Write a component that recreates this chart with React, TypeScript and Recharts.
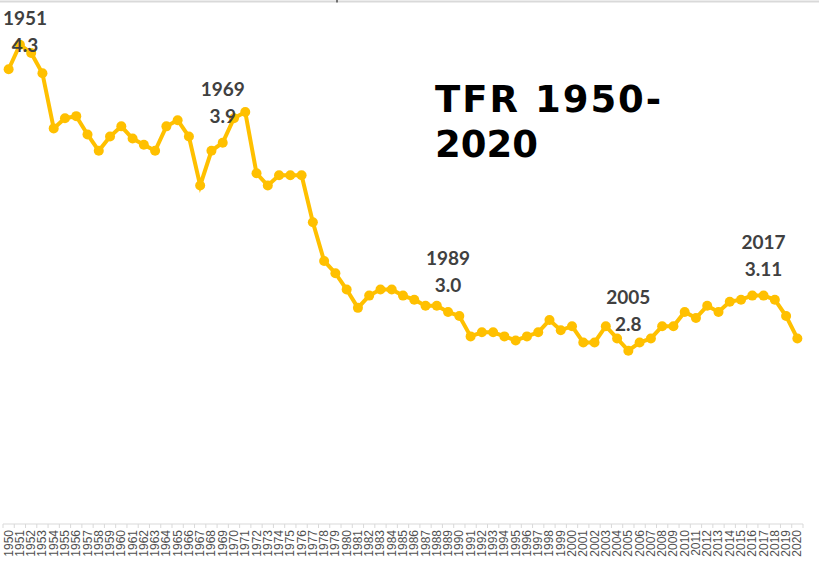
import React from "react";
import { LineChart, Line, XAxis, YAxis, LabelList, Customized } from "recharts";

const years: string[] = [
  "1950","1951","1952","1953","1954","1955","1956","1957","1958","1959",
  "1960","1961","1962","1963","1964","1965","1966","1967","1968","1969",
  "1970","1971","1972","1973","1974","1975","1976","1977","1978","1979",
  "1980","1981","1982","1983","1984","1985","1986","1987","1988","1989",
  "1990","1991","1992","1993","1994","1995","1996","1997","1998","1999",
  "2000","2001","2002","2003","2004","2005","2006","2007","2008","2009",
  "2010","2011","2012","2013","2014","2015","2016","2017","2018","2019",
  "2020",
];

const tfr: number[] = [
  4.18, 4.30, 4.26, 4.16, 3.89, 3.94, 3.95, 3.86, 3.78, 3.85,
  3.90, 3.84, 3.81, 3.78, 3.90, 3.93, 3.85, 3.61, 3.78, 3.82,
  3.94, 3.97, 3.67, 3.61, 3.66, 3.66, 3.66, 3.43, 3.24, 3.18,
  3.10, 3.01, 3.07, 3.10, 3.10, 3.07, 3.05, 3.02, 3.02, 2.99,
  2.97, 2.87, 2.89, 2.89, 2.87, 2.85, 2.87, 2.89, 2.95, 2.90,
  2.92, 2.84, 2.84, 2.92, 2.86, 2.80, 2.84, 2.86, 2.92, 2.92,
  2.99, 2.96, 3.02, 2.99, 3.04, 3.05, 3.07, 3.07, 3.05, 2.97,
  2.86,
];

const annotationYears: string[] = ["1951", "1969", "1989", "2005", "2017"];
const annotationTexts: string[] = ["4.3", "3.9", "3.0", "2.8", "3.11"];

const titleLines: string[] = ["TFR 1950-", "2020"];

const data = years.map((y, i) => ({ year: y, tfr: tfr[i] }));

const LINE_COLOR = "#FFC000";
const LABEL_FONT = "Lato, 'Open Sans', sans-serif";
const PLOT_W = 800;
const HALF_BAND = PLOT_W / years.length / 2;

const AxisTick = (props: any) => {
  const { x, y, payload, index } = props;
  return (
    <g>
      <line x1={x - HALF_BAND} y1={y - 6} x2={x - HALF_BAND} y2={y - 2} stroke="#d9d9d9" strokeWidth={1} />
      {index === years.length - 1 ? (
        <line x1={x + HALF_BAND} y1={y - 6} x2={x + HALF_BAND} y2={y - 2} stroke="#d9d9d9" strokeWidth={1} />
      ) : null}
      <text
        x={0}
        y={0}
        transform={`translate(${x + 4},${y}) rotate(-90)`}
        textAnchor="end"
        fontFamily="'Liberation Sans', Arial, sans-serif"
        fontSize={12}
        fill="#505050"
      >
        {payload.value}
      </text>
    </g>
  );
};

const AnnotationLabel = (props: any) => {
  const { x, y, index } = props;
  const yr = years[index];
  const k = annotationYears.indexOf(yr);
  if (k < 0) return null;
  const cx = Math.max(x, 25);
  const valueBase = Math.max(y - 20, 52);
  const yearBase = valueBase - 27;
  return (
    <g>
      <text x={cx} y={yearBase} textAnchor="middle" fontFamily={LABEL_FONT} fontWeight="bold" fontSize={19} fill="#404040">
        {yr}
      </text>
      <text x={cx} y={valueBase} textAnchor="middle" fontFamily={LABEL_FONT} fontWeight="bold" fontSize={19} fill="#404040">
        {annotationTexts[k]}
      </text>
    </g>
  );
};

const Decorations = () => (
  <g>
    <line x1={0} y1={1.5} x2={819} y2={1.5} stroke="#d9d9d9" strokeWidth={2} />
    <line x1={337} y1={0} x2={337} y2={2.5} stroke="#000" strokeWidth={1} />
    <text
      x={435}
      y={112}
      fontFamily="'DejaVu Sans', sans-serif"
      fontWeight="bold"
      fontSize={37}
      letterSpacing={2}
      fill="#000"
    >
      {titleLines[0]}
    </text>
    <text
      x={435}
      y={157}
      fontFamily="'DejaVu Sans', sans-serif"
      fontWeight="bold"
      fontSize={37}
      fill="#000"
    >
      {titleLines[1]}
    </text>
  </g>
);

export default function App() {
  return (
    <div style={{ position: "absolute", left: 0, top: 0, width: 819, height: 578, background: "#fff" }}>
      <LineChart
        width={819}
        height={578}
        data={data}
        margin={{ top: 4, right: 16, bottom: 0, left: 3 }}
      >
        <XAxis
          dataKey="year"
          interval={0}
          axisLine={{ stroke: "#d9d9d9", strokeWidth: 1 }}
          tickLine={false}
          tick={<AxisTick />}
          height={54}
          tickMargin={0}
          padding={{ left: HALF_BAND, right: HALF_BAND }}
        />
        <YAxis hide domain={[1.95, 4.5]} allowDataOverflow />
        <Customized component={Decorations} />
        <Line
          type="linear"
          dataKey="tfr"
          stroke={LINE_COLOR}
          strokeWidth={4}
          dot={{ r: 5, fill: LINE_COLOR, stroke: LINE_COLOR, strokeWidth: 0 }}
          isAnimationActive={false}
        >
          <LabelList dataKey="tfr" content={<AnnotationLabel />} />
        </Line>
      </LineChart>
    </div>
  );
}
